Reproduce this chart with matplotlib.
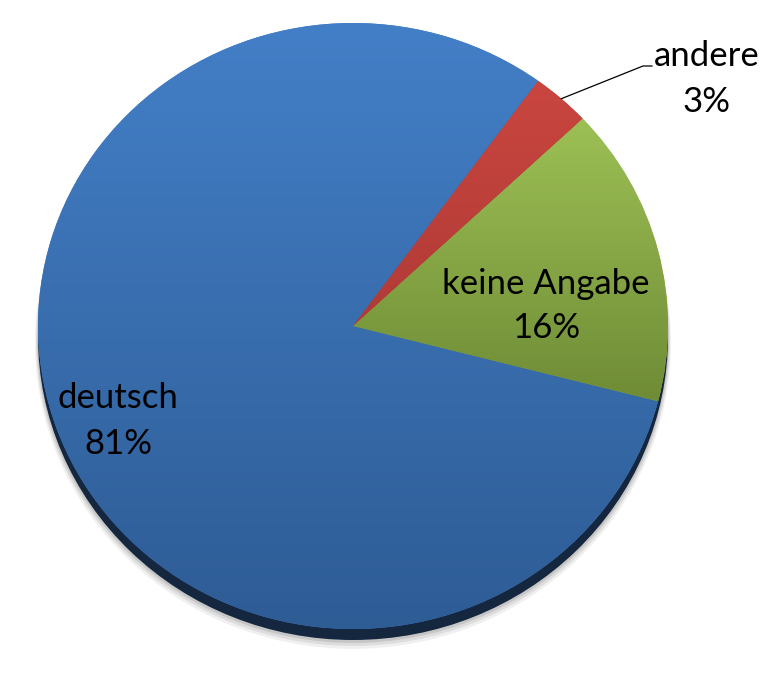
import numpy as np
import matplotlib
matplotlib.use("Agg")
import matplotlib.pyplot as plt
from matplotlib.colors import LinearSegmentedColormap
from matplotlib.patches import Ellipse

# data
categories = ["deutsch", "keine Angabe", "andere"]
shares = [81, 16, 3]
top_colors = ["#437FC7", "#9DC055", "#C9463F"]
bottom_colors = ["#2E5C95", "#6F8C36", "#B13A36"]

W, H = 781, 674
fig = plt.figure(figsize=(W / 100, H / 100), dpi=100)
ax = fig.add_axes([0, 0, 1, 1])
ax.axis("off")

RX, RY = 315.0, 303.0
k = RX / RY
cx_px, cy_px = 353.0, 326.0


def P(x, y):
    return x, (H - y) * k


ax.set_xlim(0, W)
ax.set_ylim(0, H * k)
center = P(cx_px, cy_px)

# shadow layers
for off, grow, alpha in [(17, 6, 0.06), (15, 4, 0.08), (13, 2, 0.10)]:
    e = Ellipse(P(cx_px, cy_px + off), 2 * RX + grow, 2 * RX + grow,
                facecolor="#000000", alpha=alpha, edgecolor="none", zorder=0)
    ax.add_patch(e)
ax.add_patch(Ellipse(P(cx_px, cy_px + 11), 2 * RX, 2 * RX,
                     facecolor="#15263F", edgecolor="none", zorder=1))

wedges, _ = ax.pie(shares, radius=RX, center=center, startangle=54,
                   counterclock=True, colors=top_colors,
                   wedgeprops=dict(linewidth=0, zorder=2))
ax.set_xlim(0, W)
ax.set_ylim(0, H * k)

grad = np.linspace(0, 1, 256).reshape(-1, 1)
for w, ct, cb in zip(wedges, top_colors, bottom_colors):
    bb = w.get_path().get_extents()
    cmap = LinearSegmentedColormap.from_list("g", [ct, cb])
    im = ax.imshow(grad, extent=[bb.x0, bb.x1, bb.y0, bb.y1], origin="upper",
                   cmap=cmap, aspect="auto", zorder=3, interpolation="bilinear")
    im.set_clip_path(w)
ax.set_xlim(0, W)
ax.set_ylim(0, H * k)

font = ["Lato", "DejaVu Sans"]
fs = 25
lbl_pos = {"deutsch": (118, 421), "keine Angabe": (546, 306), "andere": (707, 79)}
for name, val in zip(categories, shares):
    x, y = P(*lbl_pos[name])
    ax.text(x, y, f"{name}\n{val}%", ha="center", va="center", fontsize=fs,
            family=font, linespacing=1.5, color="black", zorder=5)

# leader line for the small slice
w = wedges[2]
mid = np.deg2rad((w.theta1 + w.theta2) / 2)
sx = center[0] + RX * np.cos(mid)
sy = center[1] + RX * np.sin(mid)
ex, ey = P(643, 66)
fx, fy = P(652, 66)
ax.plot([sx, ex, fx], [sy, ey, fy], color="black", lw=0.9, zorder=5)

fig.savefig("out.png", dpi=100)
